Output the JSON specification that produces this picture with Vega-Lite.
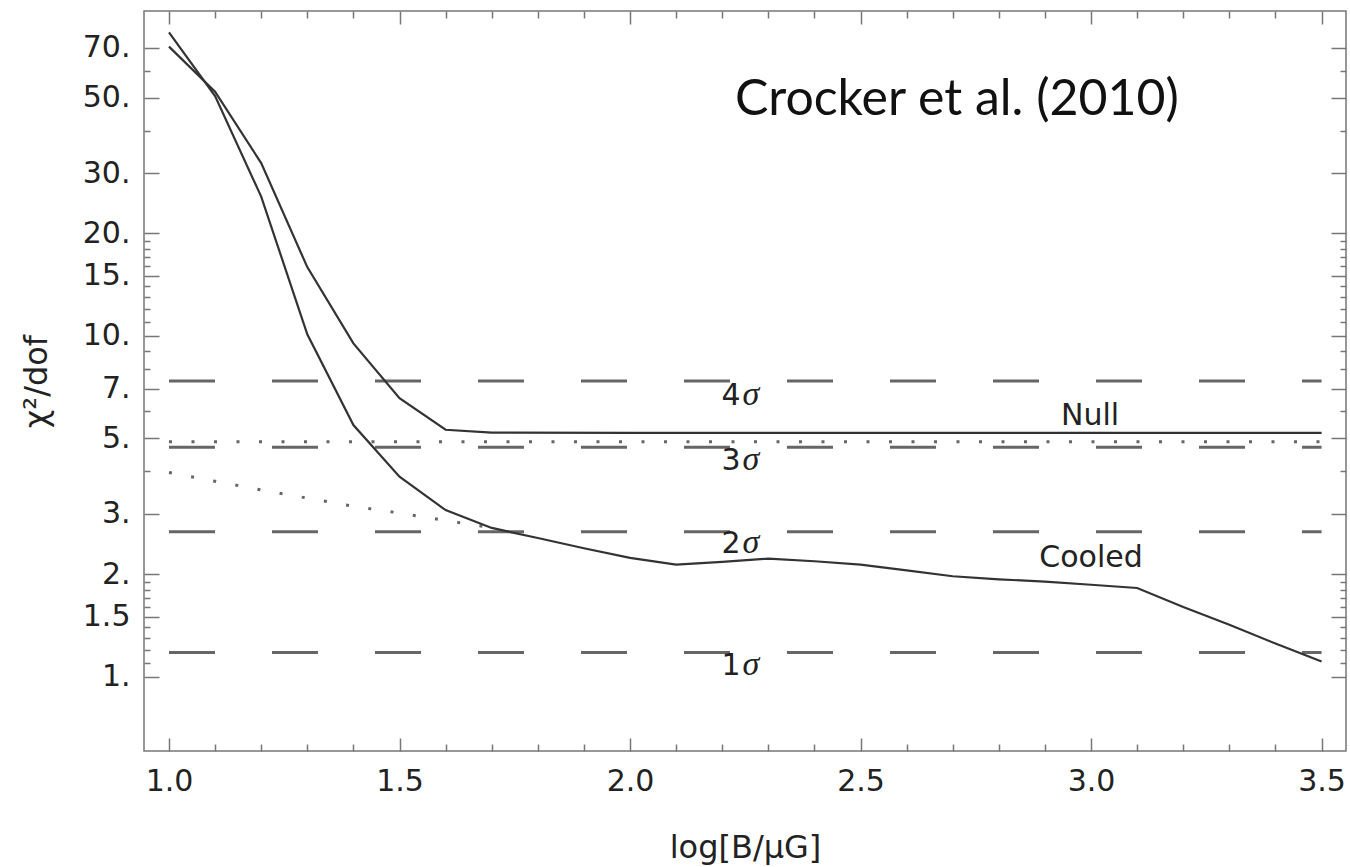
{
  "$schema": "https://vega.github.io/schema/vega-lite/v6.json",
  "width": 1202,
  "height": 740,
  "autosize": "none",
  "padding": {"left": 144, "top": 11, "right": 4, "bottom": 116},
  "background": "white",
  "config": {
    "view": {"stroke": "#777", "strokeWidth": 1.5},
    "axis": {"grid": false, "domain": false}
  },
  "datasets": {
    "curves": [
      {"series": "Null", "x": 1.0, "y": 70.5},
      {"series": "Null", "x": 1.1, "y": 52},
      {"series": "Null", "x": 1.2, "y": 32.1},
      {"series": "Null", "x": 1.3, "y": 15.9},
      {"series": "Null", "x": 1.4, "y": 9.5},
      {"series": "Null", "x": 1.5, "y": 6.56},
      {"series": "Null", "x": 1.6, "y": 5.3},
      {"series": "Null", "x": 1.7, "y": 5.2},
      {"series": "Null", "x": 2.0, "y": 5.19},
      {"series": "Null", "x": 2.5, "y": 5.19},
      {"series": "Null", "x": 3.0, "y": 5.19},
      {"series": "Null", "x": 3.5, "y": 5.19},
      {"series": "Cooled", "x": 1.0, "y": 77.6},
      {"series": "Cooled", "x": 1.1, "y": 50.5},
      {"series": "Cooled", "x": 1.2, "y": 25.6},
      {"series": "Cooled", "x": 1.3, "y": 10.1},
      {"series": "Cooled", "x": 1.4, "y": 5.47},
      {"series": "Cooled", "x": 1.5, "y": 3.86},
      {"series": "Cooled", "x": 1.6, "y": 3.08},
      {"series": "Cooled", "x": 1.7, "y": 2.73},
      {"series": "Cooled", "x": 1.8, "y": 2.55},
      {"series": "Cooled", "x": 1.9, "y": 2.38},
      {"series": "Cooled", "x": 2.0, "y": 2.23},
      {"series": "Cooled", "x": 2.1, "y": 2.13},
      {"series": "Cooled", "x": 2.2, "y": 2.17},
      {"series": "Cooled", "x": 2.3, "y": 2.22},
      {"series": "Cooled", "x": 2.4, "y": 2.18},
      {"series": "Cooled", "x": 2.5, "y": 2.13},
      {"series": "Cooled", "x": 2.6, "y": 2.05},
      {"series": "Cooled", "x": 2.7, "y": 1.97},
      {"series": "Cooled", "x": 2.8, "y": 1.93},
      {"series": "Cooled", "x": 2.9, "y": 1.9},
      {"series": "Cooled", "x": 3.0, "y": 1.86},
      {"series": "Cooled", "x": 3.1, "y": 1.82},
      {"series": "Cooled", "x": 3.2, "y": 1.6},
      {"series": "Cooled", "x": 3.3, "y": 1.42},
      {"series": "Cooled", "x": 3.4, "y": 1.25},
      {"series": "Cooled", "x": 3.5, "y": 1.107}
    ],
    "dotted": [
      {"series": "flat", "x": 1.0, "y": 4.89},
      {"series": "flat", "x": 3.5, "y": 4.89},
      {"series": "slope", "x": 1.0, "y": 3.97},
      {"series": "slope", "x": 1.1, "y": 3.74},
      {"series": "slope", "x": 1.2, "y": 3.53},
      {"series": "slope", "x": 1.3, "y": 3.34},
      {"series": "slope", "x": 1.4, "y": 3.16},
      {"series": "slope", "x": 1.5, "y": 3.02},
      {"series": "slope", "x": 1.6, "y": 2.87},
      {"series": "slope", "x": 1.68, "y": 2.76}
    ],
    "sigma": [
      {"n": "4", "x0": 1.0, "x1": 3.5, "y": 7.37, "lx": 2.242, "ly": 6.27},
      {"n": "3", "x0": 1.0, "x1": 3.5, "y": 4.71, "lx": 2.242, "ly": 4.04},
      {"n": "2", "x0": 1.0, "x1": 3.5, "y": 2.66, "lx": 2.242, "ly": 2.3},
      {"n": "1", "x0": 1.0, "x1": 3.5, "y": 1.176, "lx": 2.242, "ly": 1.012}
    ],
    "notes": [
      {"label": "Null", "x": 2.998, "y": 5.47},
      {"label": "Cooled", "x": 3.0, "y": 2.1}
    ],
    "cite": [
      {"label": "Crocker et al. (2010)", "x": 2.709, "y": 44.4}
    ]
  },
  "layer": [
    {
      "data": {"name": "sigma"},
      "mark": {"type": "rule", "strokeDash": [46, 57], "strokeWidth": 3, "color": "#666"},
      "encoding": {
        "x": {"field": "x0", "type": "quantitative", "scale": {"domain": [0.9458, 3.553], "nice": false, "zero": false}, "axis": null},
        "x2": {"field": "x1"},
        "y": {"field": "y", "type": "quantitative", "scale": {"type": "log", "domain": [0.605, 89.7], "nice": false}, "axis": null}
      }
    },
    {
      "data": {"name": "dotted"},
      "mark": {"type": "line", "strokeDash": [3, 19.5], "strokeWidth": 3, "color": "#666", "strokeCap": "butt"},
      "encoding": {
        "x": {"field": "x", "type": "quantitative", "scale": {"domain": [0.9458, 3.553], "nice": false, "zero": false}, "axis": null},
        "y": {"field": "y", "type": "quantitative", "scale": {"type": "log", "domain": [0.605, 89.7], "nice": false}, "axis": null},
        "detail": {"field": "series"}
      }
    },
    {
      "data": {"name": "curves"},
      "mark": {"type": "line", "strokeWidth": 2.2, "color": "#333"},
      "encoding": {
        "x": {"field": "x", "type": "quantitative", "scale": {"domain": [0.9458, 3.553], "nice": false, "zero": false}, "axis": null},
        "y": {"field": "y", "type": "quantitative", "scale": {"type": "log", "domain": [0.605, 89.7], "nice": false}, "axis": null},
        "detail": {"field": "series"}
      }
    },
    {
      "data": {"name": "sigma"},
      "mark": {"type": "text", "align": "right", "baseline": "alphabetic", "dx": -1, "font": "DejaVu Sans", "fontSize": 30, "color": "#222"},
      "encoding": {
        "x": {"field": "lx", "type": "quantitative", "scale": {"domain": [0.9458, 3.553], "nice": false, "zero": false}, "axis": null},
        "y": {"field": "ly", "type": "quantitative", "scale": {"type": "log", "domain": [0.605, 89.7], "nice": false}, "axis": null},
        "text": {"field": "n"}
      }
    },
    {
      "data": {"name": "sigma"},
      "mark": {"type": "text", "align": "left", "baseline": "alphabetic", "dx": 1, "font": "Liberation Serif", "fontStyle": "italic", "fontSize": 34, "color": "#222", "text": "σ"},
      "encoding": {
        "x": {"field": "lx", "type": "quantitative", "scale": {"domain": [0.9458, 3.553], "nice": false, "zero": false}, "axis": null},
        "y": {"field": "ly", "type": "quantitative", "scale": {"type": "log", "domain": [0.605, 89.7], "nice": false}, "axis": null}
      }
    },
    {
      "data": {"name": "notes"},
      "mark": {"type": "text", "align": "center", "baseline": "alphabetic", "font": "DejaVu Sans", "fontSize": 30, "color": "#222"},
      "encoding": {
        "x": {"field": "x", "type": "quantitative", "scale": {"domain": [0.9458, 3.553], "nice": false, "zero": false}, "axis": null},
        "y": {"field": "y", "type": "quantitative", "scale": {"type": "log", "domain": [0.605, 89.7], "nice": false}, "axis": null},
        "text": {"field": "label"}
      }
    },
    {
      "data": {"name": "cite"},
      "mark": {"type": "text", "align": "center", "baseline": "alphabetic", "font": "Lato", "fontSize": 50, "color": "#111"},
      "encoding": {
        "x": {"field": "x", "type": "quantitative", "scale": {"domain": [0.9458, 3.553], "nice": false, "zero": false}, "axis": null},
        "y": {"field": "y", "type": "quantitative", "scale": {"type": "log", "domain": [0.605, 89.7], "nice": false}, "axis": null},
        "text": {"field": "label"}
      }
    },
    {
      "data": {"name": "sigma"},
      "mark": {"type": "point", "opacity": 0},
      "encoding": {
        "x": {
          "field": "x0", "type": "quantitative",
          "scale": {"domain": [0.9458, 3.553], "nice": false, "zero": false},
          "axis": {
            "orient": "bottom",
            "title": "log[B/μG]",
            "values": [1.0, 1.1, 1.2, 1.3, 1.4, 1.5, 1.6, 1.7, 1.8, 1.9, 2.0, 2.1, 2.2, 2.3, 2.4, 2.5, 2.6, 2.7, 2.8, 2.9, 3.0, 3.1, 3.2, 3.3, 3.4, 3.5],
            "labelExpr": "round(datum.value*10) % 5 == 0 ? format(datum.value, '.1f') : ''",
            "tickSize": {"condition": {"test": "round(datum.value*10) % 5 == 0", "value": -13}, "value": -7},
            "tickColor": "#777",
            "tickWidth": 1.5,
            "labelFont": "DejaVu Sans",
            "labelFontSize": 30,
            "labelColor": "#222",
            "labelPadding": 28,
            "labelOverlap": false,
            "labelFlush": false,
            "labelBound": false,
            "titleFont": "DejaVu Sans",
            "titleFontSize": 32,
            "titleFontWeight": "normal",
            "titleColor": "#222",
            "titlePadding": 30
          }
        },
        "y": {
          "field": "y", "type": "quantitative",
          "scale": {"type": "log", "domain": [0.605, 89.7], "nice": false},
          "axis": {
            "orient": "left",
            "title": "χ²/dof",
            "values": [1, 1.1, 1.2, 1.3, 1.4, 1.5, 1.6, 1.7, 1.8, 1.9, 2, 3, 4, 5, 6, 7, 8, 9, 10, 11, 12, 13, 14, 15, 16, 17, 18, 19, 20, 30, 40, 50, 60, 70],
            "labelExpr": "indexof([1,2,3,5,7,10,15,20,30,50,70], datum.value) >= 0 ? datum.value + '.' : (datum.value == 1.5 ? '1.5' : '')",
            "tickSize": {"condition": {"test": "indexof([1,1.5,2,3,5,7,10,15,20,30,50,70], datum.value) >= 0", "value": -15}, "value": -6},
            "tickColor": "#777",
            "tickWidth": 1.5,
            "labelFont": "DejaVu Sans",
            "labelFontSize": 30,
            "labelColor": "#222",
            "labelPadding": 29,
            "labelOverlap": false,
            "labelFlush": false,
            "labelBound": false,
            "titleFont": "DejaVu Sans",
            "titleFontSize": 32,
            "titleFontWeight": "normal",
            "titleColor": "#222",
            "titlePadding": 29
          }
        }
      }
    },
    {
      "data": {"name": "sigma"},
      "mark": {"type": "point", "opacity": 0},
      "encoding": {
        "x": {
          "field": "x0", "type": "quantitative",
          "scale": {"domain": [0.9458, 3.553], "nice": false, "zero": false},
          "axis": {
            "orient": "top",
            "title": null,
            "labels": false,
            "values": [1.0, 1.1, 1.2, 1.3, 1.4, 1.5, 1.6, 1.7, 1.8, 1.9, 2.0, 2.1, 2.2, 2.3, 2.4, 2.5, 2.6, 2.7, 2.8, 2.9, 3.0, 3.1, 3.2, 3.3, 3.4, 3.5],
            "tickSize": {"condition": {"test": "round(datum.value*10) % 5 == 0", "value": -13}, "value": -7},
            "tickColor": "#777",
            "tickWidth": 1.5
          }
        },
        "y": {
          "field": "y", "type": "quantitative",
          "scale": {"type": "log", "domain": [0.605, 89.7], "nice": false},
          "axis": {
            "orient": "right",
            "title": null,
            "labels": false,
            "values": [1, 1.1, 1.2, 1.3, 1.4, 1.5, 1.6, 1.7, 1.8, 1.9, 2, 3, 4, 5, 6, 7, 8, 9, 10, 11, 12, 13, 14, 15, 16, 17, 18, 19, 20, 30, 40, 50, 60, 70],
            "tickSize": {"condition": {"test": "indexof([1,1.5,2,3,5,7,10,15,20,30,50,70], datum.value) >= 0", "value": -15}, "value": -6},
            "tickColor": "#777",
            "tickWidth": 1.5
          }
        }
      }
    }
  ],
  "resolve": {"axis": {"x": "independent", "y": "independent"}}
}
